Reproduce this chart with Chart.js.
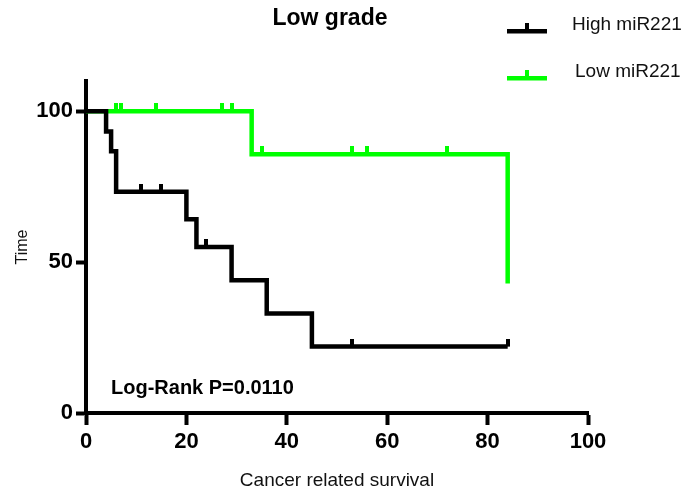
<!DOCTYPE html>
<html>
<head>
<meta charset="utf-8">
<script src="https://cdn.jsdelivr.net/npm/chart.js@4"></script>
<style>
body{margin:0;background:#fff;}
#wrap{width:689px;height:493px;}
</style>
</head>
<body>
<div id="wrap"><canvas id="km" width="689" height="493"></canvas></div>
<script>
// survival curves (time, survival %) and censored times
const highTime=[0,4,5,6,20,22,29,36,45,84];
const highSurv=[100,93.3,86.7,73.3,64.2,55.0,44.0,33.0,22.0,22.0];
const highCensor=[11,15,24,53,84];

const lowTime=[0,33,84];
const lowSurv=[100,85.7,42.9];
const lowCensor=[6,7,14,27,29,35,53,56,72];

const xTicks=[0,20,40,60,80,100];
const yTicks=[0,50,100];

const FONT="'Liberation Sans', Arial, sans-serif";
const BLACK="#000000";
const GREEN="#00ff00";

function pts(t,s){return t.map((v,i)=>({x:v,y:s[i]}));}

// survival value at time t (step function)
function survAt(t,times,surv){
let v=surv[0];
for(let i=0;i<times.length;i++){ if(times[i]<=t) v=surv[i]; }
return v;
}
function censorPts(c,t,s){return c.map(v=>({x:v,y:survAt(v,t,s)}));}

// little upward tick for censored cases
function tickImg(color){
const c=document.createElement("canvas");
c.width=4;c.height=16;
const g=c.getContext("2d");
g.fillStyle=color;
g.fillRect(0,0,4,8);
return c;
}

const decor={
id:"decor",
afterDraw(chart){
const ctx=chart.ctx;
ctx.save();
ctx.fillStyle=BLACK;
ctx.textBaseline="middle";
ctx.textAlign="center";
ctx.font="bold 23px "+FONT;
ctx.fillText("Low grade",330,19);

ctx.textAlign="left";
ctx.font="bold 20px "+FONT;
ctx.fillText("Log-Rank P=0.0110",111,388);

// legend
const items=[["High miR221",BLACK,31,25],["Low miR221",GREEN,78,72]];
items.forEach(([txt,col,ly,ty])=>{
ctx.fillStyle=col;
ctx.fillRect(507,ly-2,40,4.5);
ctx.fillRect(525,ly-8,4,8);
ctx.fillStyle="#111";
ctx.font="19px "+FONT;
ctx.fillText(txt,col===BLACK?572:575,ty);
});
ctx.restore();
}
};

new Chart(document.getElementById("km"),{
type:"line",
data:{
datasets:[
{label:"High miR221",data:pts(highTime,highSurv),borderColor:BLACK,borderWidth:4.5,stepped:"before",pointRadius:0,borderJoinStyle:"miter",borderCapStyle:"butt",fill:false},
{label:"High miR221 censored",type:"scatter",data:censorPts(highCensor,highTime,highSurv),pointStyle:tickImg(BLACK),pointRadius:8,showLine:false},
{label:"Low miR221",data:pts(lowTime,lowSurv),borderColor:GREEN,borderWidth:4.5,stepped:"before",pointRadius:0,borderJoinStyle:"miter",borderCapStyle:"butt",fill:false},
{label:"Low miR221 censored",type:"scatter",data:censorPts(lowCensor,lowTime,lowSurv),pointStyle:tickImg(GREEN),pointRadius:8,showLine:false}
]
},
options:{
responsive:false,
animation:false,
layout:{padding:{left:0,top:81,right:101,bottom:0}},
plugins:{legend:{display:false},title:{display:false},tooltip:{enabled:false}},
scales:{
x:{
type:"linear",min:0,max:100,
afterFit(s){s.height=80;},
afterBuildTicks(s){s.ticks=xTicks.map(v=>({value:v}));},
grid:{drawOnChartArea:false,drawTicks:true,tickLength:12,tickWidth:4,tickColor:BLACK},
border:{display:true,color:BLACK,width:4},
ticks:{color:BLACK,padding:4,font:{family:FONT,size:22,weight:"bold"},maxRotation:0},
title:{display:true,text:"Cancer related survival",color:"#111",font:{family:FONT,size:19},padding:{top:0,bottom:1}}
},
y:{
type:"linear",min:0,max:110,
afterFit(s){s.width=86;},
afterBuildTicks(s){s.ticks=yTicks.map(v=>({value:v}));},
grid:{drawOnChartArea:false,drawTicks:true,tickLength:10,tickWidth:4,tickColor:BLACK},
border:{display:true,color:BLACK,width:4},
ticks:{color:BLACK,padding:3,font:{family:FONT,size:22,weight:"bold"}},
title:{display:true,text:"Time",color:"#111",font:{family:FONT,size:16},padding:{top:13,bottom:0}}
}
}
},
plugins:[decor]
});
</script>
</body>
</html>
